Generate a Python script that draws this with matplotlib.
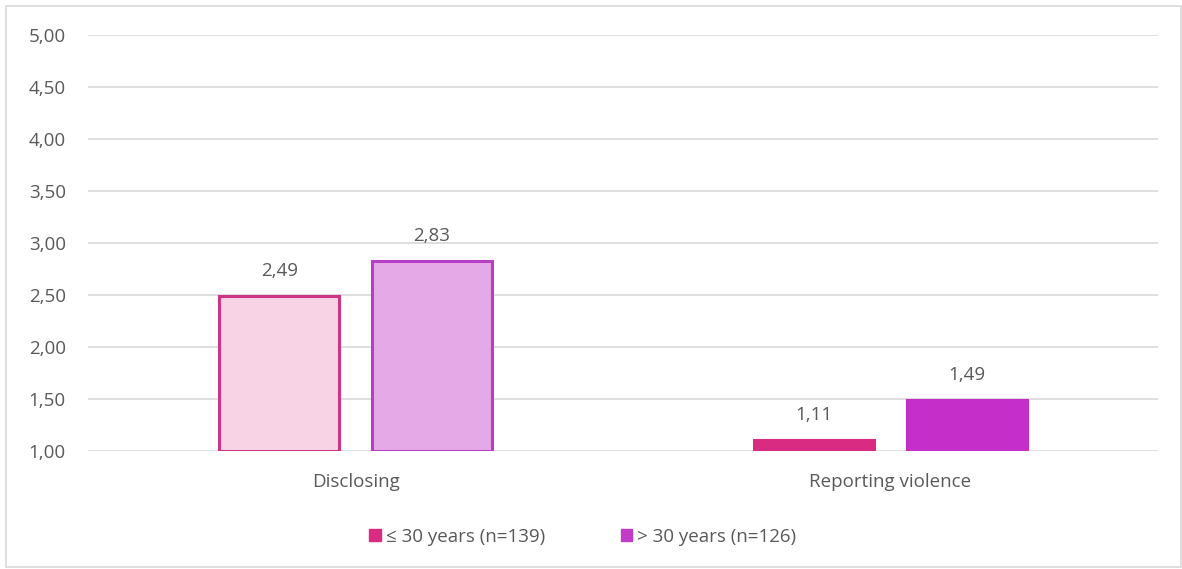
import matplotlib
matplotlib.use("Agg")
import matplotlib.pyplot as plt
from matplotlib.patches import Rectangle
import numpy as np

categories = ["Disclosing", "Reporting violence"]
series_names = ["\u2264 30 years (n=139)", "> 30 years (n=126)"]
young = [2.49, 1.11]
older = [2.83, 1.49]
yticks = [1.0, 1.5, 2.0, 2.5, 3.0, 3.5, 4.0, 4.5, 5.0]

fill_young = ["#f8d3e6", "#d92b82"]
edge_young = ["#cf3585", "#d92b82"]
fill_older = ["#e6a9e8", "#c52ec9"]
edge_older = ["#b83ec6", "#c52ec9"]
legend_colors = ["#d92b82", "#c03bc6"]
text_color = "#595959"

plt.rcParams['font.family'] = ['Open Sans', 'DejaVu Sans']
FS = 13.5

W, H = 1182, 569
fig = plt.figure(figsize=(W / 100, H / 100), dpi=100)
ax = fig.add_axes([88 / W, 1 - 451 / H, (1158 - 88) / W, (451 - 35) / H])

x = np.arange(len(categories))
bw = 0.225
gap = 0.06
base = yticks[0]
for i in range(len(categories)):
    ax.bar(x[i] - (bw + gap) / 2, young[i] - base, bottom=base, width=bw,
           color=fill_young[i], edgecolor=edge_young[i], linewidth=2.2, zorder=3)
    ax.bar(x[i] + (bw + gap) / 2, older[i] - base, bottom=base, width=bw,
           color=fill_older[i], edgecolor=edge_older[i], linewidth=2.2, zorder=3)
    ax.text(x[i] - (bw + gap) / 2, young[i] + 0.15, f"{young[i]:.2f}".replace(".", ","),
            ha="center", va="bottom", fontsize=FS, color=text_color)
    ax.text(x[i] + (bw + gap) / 2, older[i] + 0.15, f"{older[i]:.2f}".replace(".", ","),
            ha="center", va="bottom", fontsize=FS, color=text_color)

ax.set_xlim(-0.5, 1.5)
ax.set_ylim(1.0, 5.0)
ax.set_yticks(yticks)
ax.set_yticklabels([f"{v:.2f}".replace(".", ",") for v in yticks])
ax.set_xticks(x)
ax.set_xticklabels(categories)
ax.tick_params(axis="both", length=0, labelsize=FS, labelcolor=text_color)
ax.tick_params(axis="y", pad=16)
ax.tick_params(axis="x", pad=16)
ax.grid(axis="y", color="#d9d9d9", linewidth=1.2, zorder=0)
ax.set_axisbelow(True)
for s in ax.spines.values():
    s.set_visible(False)

# legend
handles = [Rectangle((0, 0), 1, 1, color=c) for c in legend_colors]
fig.legend(handles, series_names, loc="center", bbox_to_anchor=(583 / W, 1 - 537 / H),
           ncol=2, frameon=False, fontsize=FS, labelcolor=text_color,
           handlelength=0.6, handleheight=0.6, handletextpad=0.3, columnspacing=4.0)

# outer border
fig.patches.append(Rectangle((6 / W, 2 / H), (1181 - 6) / W, (563 - 2) / H,
                             transform=fig.transFigure, fill=False,
                             edgecolor="#d9d9d9", linewidth=1.2))

fig.savefig("out.png", dpi=100)
